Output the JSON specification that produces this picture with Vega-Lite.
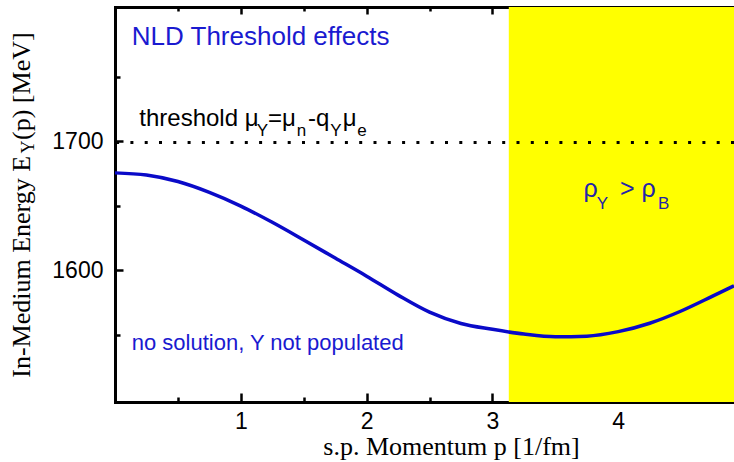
{
  "$schema": "https://vega.github.io/schema/vega-lite/v6.json",
  "width": 619,
  "height": 395,
  "autosize": {"type": "none"},
  "padding": {"left": 115, "top": 7, "right": 0, "bottom": 60},
  "background": "white",
  "config": {
    "view": {"stroke": null},
    "axis": {
      "domainColor": "black", "domainWidth": 3, "tickColor": "black", "tickWidth": 2.5,
      "labelFont": "Liberation Sans", "labelFontSize": 23, "labelColor": "black",
      "grid": false, "zindex": 1, "domainCap": "square", "title": null
    }
  },
  "datasets": {
    "curve": [
      {"p": 0, "E": 1675.5}, {"p": 0.25, "E": 1673.8}, {"p": 0.5, "E": 1668.8},
      {"p": 0.75, "E": 1660.4}, {"p": 1.0, "E": 1649.8}, {"p": 1.25, "E": 1637.2},
      {"p": 1.5, "E": 1623.5}, {"p": 1.75, "E": 1609.5}, {"p": 2.0, "E": 1595.5},
      {"p": 2.25, "E": 1580.8}, {"p": 2.5, "E": 1567.6}, {"p": 2.75, "E": 1558.8},
      {"p": 3.0, "E": 1554.3}, {"p": 3.25, "E": 1550.6}, {"p": 3.5, "E": 1548.5},
      {"p": 3.75, "E": 1549.0}, {"p": 4.0, "E": 1552.5}, {"p": 4.25, "E": 1559.0},
      {"p": 4.5, "E": 1568.5}, {"p": 4.75, "E": 1580.0}, {"p": 4.92, "E": 1588.0}
    ],
    "one": [{"n": 1}]
  },
  "resolve": {"axis": {"x": "independent", "y": "independent"}},
  "layer": [
    {
      "data": {"name": "one"},
      "mark": {"type": "rect", "color": "#ffff00"},
      "encoding": {
        "x": {"datum": 3.13, "type": "quantitative", "scale": {"domain": [0, 4.92], "nice": false, "zero": false},
              "axis": {"orient": "bottom", "values": [1, 2, 3, 4], "ticks": false, "tickSize": 0, "labelPadding": 8, "domain": true,
                       "title": "s.p. Momentum p [1/fm]", "titleFont": "Liberation Serif", "titleFontSize": 26,
                       "titleFontWeight": "normal", "titleColor": "black", "titlePadding": 0, "titleX": 336}},
        "x2": {"datum": 4.92}
      }
    },
    {
      "data": {"name": "one"},
      "mark": {"type": "rule", "color": "black", "strokeWidth": 3, "strokeDash": [3, 11.3]},
      "encoding": {
        "y": {"datum": 1699, "type": "quantitative", "scale": {"domain": [1498, 1804], "nice": false, "zero": false},
              "axis": {"orient": "right", "offset": -619, "values": [1550, 1650, 1750], "tickSize": 5, "labels": false, "domain": false}}
      }
    },
    {
      "data": {"name": "curve"},
      "mark": {"type": "line", "color": "#0a0ac8", "strokeWidth": 3.5, "interpolate": "monotone"},
      "encoding": {
        "x": {"field": "p", "type": "quantitative", "scale": {"domain": [0, 4.92], "nice": false, "zero": false},
              "axis": {"orient": "bottom", "offset": -395, "values": [1, 2, 3, 4], "tickSize": 7, "labels": false, "domain": true}},
        "y": {"field": "E", "type": "quantitative", "scale": {"domain": [1498, 1804], "nice": false, "zero": false},
              "axis": {"orient": "left", "values": [1600, 1700], "format": "d", "ticks": false, "tickSize": 0, "labelPadding": 12, "domain": true}}
      }
    },
    {
      "data": {"name": "one"},
      "mark": {"type": "text", "text": "NLD Threshold effects", "font": "Liberation Sans", "fontSize": 26, "color": "#1a1ad0", "align": "left", "baseline": "alphabetic"},
      "encoding": {
        "x": {"datum": 0.133, "type": "quantitative", "scale": {"domain": [0, 4.92], "nice": false, "zero": false},
              "axis": {"orient": "bottom", "offset": -395, "values": [0.5, 1.5, 2.5, 3.5, 4.5], "tickSize": 4, "labels": false, "domain": false}},
        "y": {"datum": 1774.2, "type": "quantitative", "scale": {"domain": [1498, 1804], "nice": false, "zero": false},
              "axis": {"orient": "right", "offset": -619, "values": [1600, 1700], "tickSize": 8, "labels": false, "domain": false}}
      }
    },
    {
      "data": {"name": "one"},
      "mark": {"type": "text", "text": "no solution, Y not populated", "font": "Liberation Sans", "fontSize": 22, "color": "#1a1ad0", "align": "left", "baseline": "alphabetic"},
      "encoding": {
        "x": {"datum": 0.133, "type": "quantitative", "scale": {"domain": [0, 4.92], "nice": false, "zero": false},
              "axis": {"orient": "top", "offset": -395, "values": [0.5, 1.5, 2.5, 3.5, 4.5], "tickSize": 5, "labels": false, "domain": false}},
        "y": {"datum": 1538.5, "type": "quantitative", "scale": {"domain": [1498, 1804], "nice": false, "zero": false}, "axis": null}
      }
    },
    {
      "data": {"name": "one"},
      "mark": {"type": "text", "text": "threshold μ", "font": "Liberation Sans", "fontSize": 24, "color": "black", "align": "left", "baseline": "alphabetic"},
      "encoding": {
        "x": {"datum": 0.193, "type": "quantitative", "scale": {"domain": [0, 4.92], "nice": false, "zero": false},
              "axis": {"orient": "top", "offset": -395, "values": [1, 2, 3, 4], "tickSize": 9, "labels": false, "domain": false}},
        "y": {"datum": 1711.6, "type": "quantitative", "scale": {"domain": [1498, 1804], "nice": false, "zero": false}, "axis": null}
      }
    },
    {
      "data": {"name": "one"},
      "mark": {"type": "text", "text": "Y", "font": "Liberation Sans", "fontSize": 17, "color": "black", "align": "left", "baseline": "alphabetic"},
      "encoding": {
        "x": {"datum": 1.126, "type": "quantitative", "scale": {"domain": [0, 4.92], "nice": false, "zero": false}, "axis": null},
        "y": {"datum": 1703.9, "type": "quantitative", "scale": {"domain": [1498, 1804], "nice": false, "zero": false}, "axis": null}
      }
    },
    {
      "data": {"name": "one"},
      "mark": {"type": "text", "text": "=μ", "font": "Liberation Sans", "fontSize": 24, "color": "black", "align": "left", "baseline": "alphabetic"},
      "encoding": {
        "x": {"datum": 1.216, "type": "quantitative", "scale": {"domain": [0, 4.92], "nice": false, "zero": false}, "axis": null},
        "y": {"datum": 1711.6, "type": "quantitative", "scale": {"domain": [1498, 1804], "nice": false, "zero": false}, "axis": null}
      }
    },
    {
      "data": {"name": "one"},
      "mark": {"type": "text", "text": "n", "font": "Liberation Sans", "fontSize": 17, "color": "black", "align": "left", "baseline": "alphabetic"},
      "encoding": {
        "x": {"datum": 1.445, "type": "quantitative", "scale": {"domain": [0, 4.92], "nice": false, "zero": false}, "axis": null},
        "y": {"datum": 1703.9, "type": "quantitative", "scale": {"domain": [1498, 1804], "nice": false, "zero": false}, "axis": null}
      }
    },
    {
      "data": {"name": "one"},
      "mark": {"type": "text", "text": "-q", "font": "Liberation Sans", "fontSize": 24, "color": "black", "align": "left", "baseline": "alphabetic"},
      "encoding": {
        "x": {"datum": 1.535, "type": "quantitative", "scale": {"domain": [0, 4.92], "nice": false, "zero": false}, "axis": null},
        "y": {"datum": 1711.6, "type": "quantitative", "scale": {"domain": [1498, 1804], "nice": false, "zero": false}, "axis": null}
      }
    },
    {
      "data": {"name": "one"},
      "mark": {"type": "text", "text": "Y", "font": "Liberation Sans", "fontSize": 17, "color": "black", "align": "left", "baseline": "alphabetic"},
      "encoding": {
        "x": {"datum": 1.71, "type": "quantitative", "scale": {"domain": [0, 4.92], "nice": false, "zero": false}, "axis": null},
        "y": {"datum": 1703.9, "type": "quantitative", "scale": {"domain": [1498, 1804], "nice": false, "zero": false}, "axis": null}
      }
    },
    {
      "data": {"name": "one"},
      "mark": {"type": "text", "text": "μ", "font": "Liberation Sans", "fontSize": 24, "color": "black", "align": "left", "baseline": "alphabetic"},
      "encoding": {
        "x": {"datum": 1.81, "type": "quantitative", "scale": {"domain": [0, 4.92], "nice": false, "zero": false}, "axis": null},
        "y": {"datum": 1711.6, "type": "quantitative", "scale": {"domain": [1498, 1804], "nice": false, "zero": false}, "axis": null}
      }
    },
    {
      "data": {"name": "one"},
      "mark": {"type": "text", "text": "e", "font": "Liberation Sans", "fontSize": 17, "color": "black", "align": "left", "baseline": "alphabetic"},
      "encoding": {
        "x": {"datum": 1.925, "type": "quantitative", "scale": {"domain": [0, 4.92], "nice": false, "zero": false}, "axis": null},
        "y": {"datum": 1703.9, "type": "quantitative", "scale": {"domain": [1498, 1804], "nice": false, "zero": false}, "axis": null}
      }
    },
    {
      "data": {"name": "one"},
      "mark": {"type": "text", "text": "ρ", "font": "Liberation Sans", "fontSize": 25, "color": "#2424a8", "align": "left", "baseline": "alphabetic"},
      "encoding": {
        "x": {"datum": 3.723, "type": "quantitative", "scale": {"domain": [0, 4.92], "nice": false, "zero": false}, "axis": null},
        "y": {"datum": 1656.7, "type": "quantitative", "scale": {"domain": [1498, 1804], "nice": false, "zero": false}, "axis": null}
      }
    },
    {
      "data": {"name": "one"},
      "mark": {"type": "text", "text": "Y", "font": "Liberation Sans", "fontSize": 17, "color": "#2424a8", "align": "left", "baseline": "alphabetic"},
      "encoding": {
        "x": {"datum": 3.83, "type": "quantitative", "scale": {"domain": [0, 4.92], "nice": false, "zero": false}, "axis": null},
        "y": {"datum": 1647.8, "type": "quantitative", "scale": {"domain": [1498, 1804], "nice": false, "zero": false}, "axis": null}
      }
    },
    {
      "data": {"name": "one"},
      "mark": {"type": "text", "text": "> ρ", "font": "Liberation Sans", "fontSize": 25, "color": "#2424a8", "align": "left", "baseline": "alphabetic"},
      "encoding": {
        "x": {"datum": 4.014, "type": "quantitative", "scale": {"domain": [0, 4.92], "nice": false, "zero": false}, "axis": null},
        "y": {"datum": 1656.7, "type": "quantitative", "scale": {"domain": [1498, 1804], "nice": false, "zero": false}, "axis": null}
      }
    },
    {
      "data": {"name": "one"},
      "mark": {"type": "text", "text": "B", "font": "Liberation Sans", "fontSize": 17, "color": "#2424a8", "align": "left", "baseline": "alphabetic"},
      "encoding": {
        "x": {"datum": 4.316, "type": "quantitative", "scale": {"domain": [0, 4.92], "nice": false, "zero": false}, "axis": null},
        "y": {"datum": 1647.8, "type": "quantitative", "scale": {"domain": [1498, 1804], "nice": false, "zero": false}, "axis": null}
      }
    },
    {
      "data": {"name": "one"},
      "mark": {"type": "text", "text": "In-Medium Energy E", "font": "Liberation Serif", "fontSize": 26, "color": "black", "align": "left", "baseline": "alphabetic", "angle": 270},
      "encoding": {
        "x": {"datum": -0.676, "type": "quantitative", "scale": {"domain": [0, 4.92], "nice": false, "zero": false}, "axis": null},
        "y": {"datum": 1516.8, "type": "quantitative", "scale": {"domain": [1498, 1804], "nice": false, "zero": false}, "axis": null}
      }
    },
    {
      "data": {"name": "one"},
      "mark": {"type": "text", "text": "Y", "font": "Liberation Serif", "fontSize": 18, "color": "black", "align": "left", "baseline": "alphabetic", "angle": 270},
      "encoding": {
        "x": {"datum": -0.644, "type": "quantitative", "scale": {"domain": [0, 4.92], "nice": false, "zero": false}, "axis": null},
        "y": {"datum": 1690.5, "type": "quantitative", "scale": {"domain": [1498, 1804], "nice": false, "zero": false}, "axis": null}
      }
    },
    {
      "data": {"name": "one"},
      "mark": {"type": "text", "text": "(p) [MeV]", "font": "Liberation Serif", "fontSize": 26, "color": "black", "align": "left", "baseline": "alphabetic", "angle": 270},
      "encoding": {
        "x": {"datum": -0.676, "type": "quantitative", "scale": {"domain": [0, 4.92], "nice": false, "zero": false}, "axis": null},
        "y": {"datum": 1701, "type": "quantitative", "scale": {"domain": [1498, 1804], "nice": false, "zero": false}, "axis": null}
      }
    }
  ]
}
